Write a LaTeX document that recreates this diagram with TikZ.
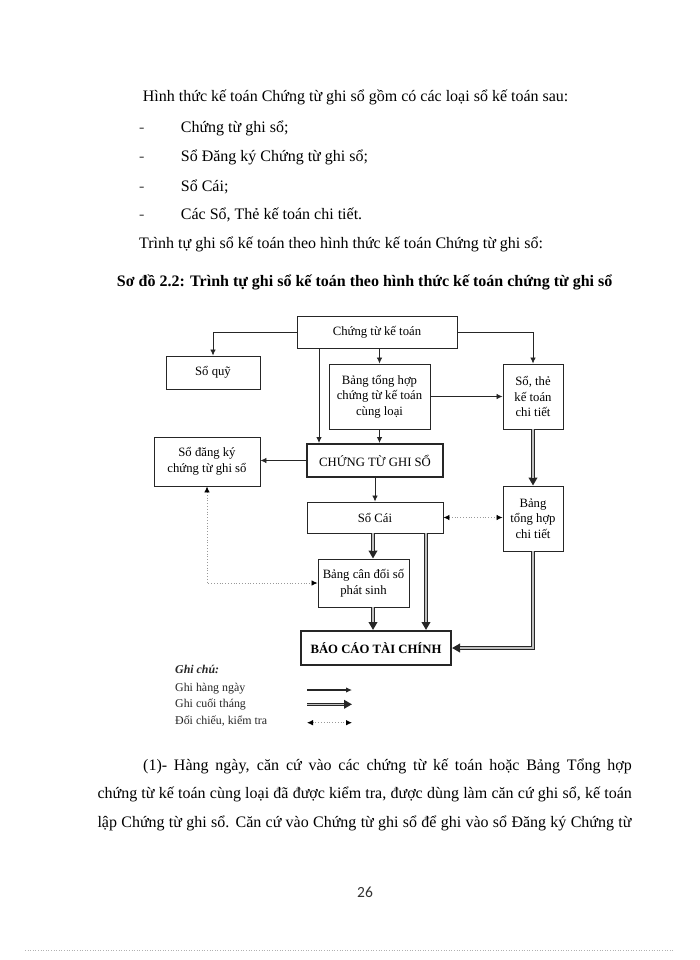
\documentclass[tikz,border=0pt]{standalone}
\usepackage{fontspec}
\setmainfont{Liberation Serif}
\newfontfamily\numfont{Carlito}
\usetikzlibrary{arrows.meta}
\newcommand\bodyfont{\fontsize{16}{19}\selectfont}
\newcommand\boxfont{\fontsize{12.7}{15.6}\selectfont}
\newcommand\legfont{\fontsize{11.9}{14}\selectfont}
\begin{document}
\begin{tikzpicture}[x=1pt,y=-1pt,
  txt/.style={anchor=base west, inner sep=0pt, font=\bodyfont},
  dashmark/.style={txt, text=black!70},
  box/.style={draw=black!85, line width=0.9pt, align=center, inner sep=1pt, font=\boxfont},
  bigbox/.style={box, line width=2pt},
  legtxt/.style={anchor=base west, inner sep=0pt, font=\legfont, text=black!85},
  daily/.style={draw=black!85, line width=0.8pt, -{Latex[length=6pt,width=5.5pt]}},
  monthly/.style={draw=black!85, line width=3.4pt, -{Triangle[length=8pt,width=8.5pt]},
     postaction={draw=gray!50, line width=1.1pt, -, shorten >=8pt}},
  check/.style={draw=gray!80, dotted, line width=0.8pt,
     {Latex[length=6pt,width=5.5pt,color=black]}-{Latex[length=6pt,width=5.5pt,color=black]}}
]
\useasboundingbox[fill=white] (0,0) rectangle (700,960);

% ---- text above the diagram
\node[txt] (l1) at (142.7,102) {Hình thức kế toán Chứng từ ghi sổ gồm có các loại sổ kế toán sau:};
\node[dashmark] (d1) at (139,133) {-};
\node[txt] (i1) at (180.7,133) {Chứng từ ghi sổ;};
\node[dashmark] (d2) at (139,162) {-};
\node[txt] (i2) at (180.7,162) {Sổ Đăng ký Chứng từ ghi sổ;};
\node[dashmark] (d3) at (139,191) {-};
\node[txt] (i3) at (180.7,191) {Sổ Cái;};
\node[dashmark] (d4) at (139,219) {-};
\node[txt] (i4) at (180.7,219) {Các Sổ, Thẻ kế toán chi tiết.};
\node[txt] (l6) at (139,248) {Trình tự ghi sổ kế toán theo hình thức kế toán Chứng từ ghi sổ:};
\node[txt, font=\bodyfont\bfseries] (cap) at (116.7,286) {Sơ đồ 2.2: Trình tự ghi sổ kế toán theo hình thức kế toán chứng từ ghi sổ};

% ---- boxes
\node[box, minimum width=160, minimum height=32] (ctkt) at (377,332) {Chứng từ kế toán};
\node[box, minimum width=94, minimum height=33] (soquy) at (213,372.5) {Sổ quỹ};
\node[box, minimum width=101, minimum height=65] (bth) at (379.5,396.5) {Bảng tổng hợp\\chứng từ kế toán\\cùng loại};
\node[box, minimum width=106, minimum height=49] (sdk) at (207,461.5) {Sổ đăng ký\\chứng từ ghi sổ};
\node[bigbox, minimum width=136, minimum height=33] (ctgs) at (375,460.5) {CHỨNG TỪ GHI SỔ};
\node[box, minimum width=60, minimum height=65] (sotc) at (533,396.5) {Sổ, thẻ\\kế toán\\chi tiết};
\node[box, minimum width=60, minimum height=65] (bthct) at (533,518.5) {Bảng\\tổng hợp\\chi tiết};
\node[box, minimum width=136, minimum height=31] (socai) at (375,517.5) {Sổ Cái};
\node[box, minimum width=91, minimum height=48] (bcd) at (363.5,583) {Bảng cân đối số\\phát sinh};
\node[bigbox, minimum width=150, minimum height=34, font=\boxfont\bfseries] (bctc) at (376,648) {BÁO CÁO TÀI CHÍNH};

% ---- connectors
\draw[daily] (ctkt.west) -| (soquy.north);
\draw[daily] (bth.north |- ctkt.south) -- (bth.north);
\draw[daily] ([xshift=-58pt]ctkt.south) coordinate (p1) -- (p1 |- ctgs.north);
\draw[daily] (ctkt.east) -| (sotc.north);
\draw[daily] (bth.east) -- (sotc.west |- bth.east);
\draw[daily] (bth.south) -- (bth.south |- ctgs.north);
\draw[daily] (ctgs.west) -- (sdk.east |- ctgs.west);
\draw[daily] (ctgs.south) -- (socai.north);
\draw[monthly] (sotc.south) -- (bthct.north);
\draw[check] (socai.east) -- (bthct.west |- socai.east);
\draw[monthly] ([xshift=-2pt]socai.south) coordinate (p2) -- (p2 |- bcd.north);
\draw[monthly] ([xshift=9.5pt]bcd.south) coordinate (p3) -- (p3 |- bctc.north);
\draw[monthly] ([xshift=51pt]socai.south) coordinate (p4) -- (p4 |- bctc.north);
\draw[monthly] (bthct.south) |- (bctc.east);
\draw[check] (sdk.south) |- (bcd.west);

% ---- legend
\node[legtxt, font=\legfont\bfseries\itshape] (gc) at (175,673) {Ghi chú:};
\node[legtxt] (g1) at (175,691.5) {Ghi hàng ngày};
\node[legtxt] (g2) at (175,707) {Ghi cuối tháng};
\node[legtxt] (g3) at (175,724) {Đối chiếu, kiểm tra};
\coordinate (a1) at (307,690); \coordinate (b1) at (352,690);
\coordinate (a2) at (307,704.3); \coordinate (b2) at (352,704.3);
\coordinate (a3) at (307,722.7); \coordinate (b3) at (352,722.7);
\draw[daily, line width=1.1pt] (a1) -- (b1);
\draw[monthly] (a2) -- (b2);
\draw[check] (a3) -- (b3);

% ---- paragraph below
\node[txt] (p1l) at (143,770) {\makebox[488.7pt][s]{(1)- Hàng ngày, căn cứ vào các chứng từ kế toán hoặc Bảng Tổng hợp}};
\node[txt] (p2l) at (97.3,798.5) {\makebox[534.4pt][s]{chứng từ kế toán cùng loại đã được kiểm tra, được dùng làm căn cứ ghi sổ, kế toán}};
\node[txt] (p3l) at (97.3,827) {\makebox[534pt][s]{lập Chứng từ ghi sổ. Căn cứ vào Chứng từ ghi sổ để ghi vào sổ Đăng ký Chứng từ}};

% ---- page number and footer rule
\node[anchor=base, inner sep=0pt, font=\numfont\fontsize{15.5}{18}\selectfont, text=black!80] (pg) at (365,897) {26};
\coordinate (f1) at (25,950); \coordinate (f2) at (673,950);
\draw[gray!60, dotted, line width=0.6pt] (f1) -- (f2);
\end{tikzpicture}
\end{document}
